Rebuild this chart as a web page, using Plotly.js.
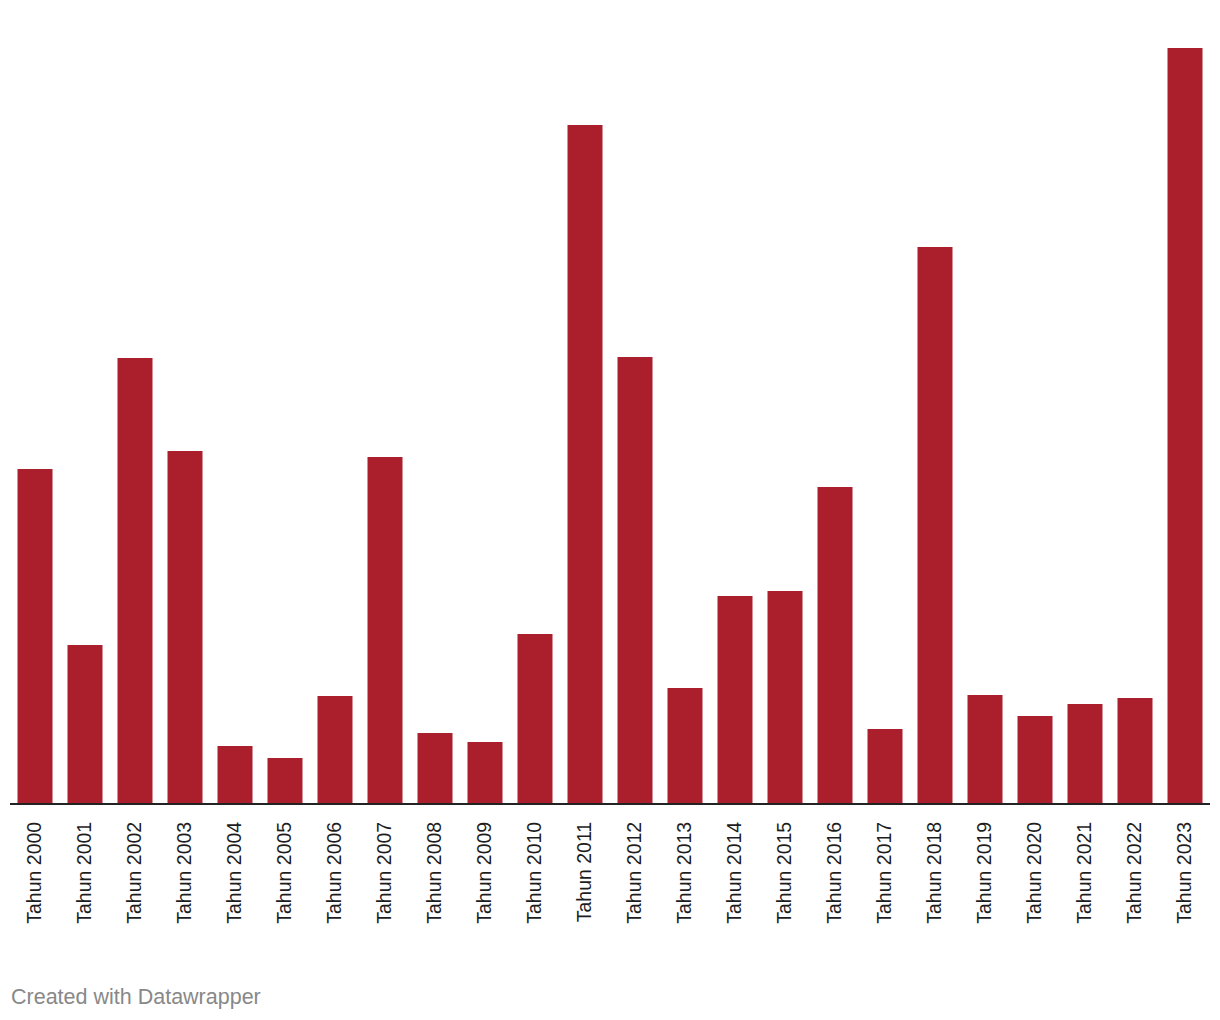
<!DOCTYPE html>
<html>
<head>
<meta charset="utf-8">
<script src="https://cdn.plot.ly/plotly-3.0.1.min.js"></script>
<style>html,body{margin:0;padding:0;background:#fff;}#chart{width:1220px;height:1020px;}</style>
</head>
<body>
<div id="chart"></div>
<script>
const years = ["Tahun 2000","Tahun 2001","Tahun 2002","Tahun 2003","Tahun 2004","Tahun 2005","Tahun 2006","Tahun 2007","Tahun 2008","Tahun 2009","Tahun 2010","Tahun 2011","Tahun 2012","Tahun 2013","Tahun 2014","Tahun 2015","Tahun 2016","Tahun 2017","Tahun 2018","Tahun 2019","Tahun 2020","Tahun 2021","Tahun 2022","Tahun 2023"];
const values = [334,158,445,352,57,45,107,346,70,61,169,678,446,115,207,212,316,74,556,108,87,99,105,755];

const trace = {
  type: 'bar',
  x: years,
  y: values,
  marker: {color: '#ab1f2c'},
  hoverinfo: 'x+y'
};

const layout = {
  width: 1220,
  height: 1020,
  margin: {l: 10, r: 10, t: 3, b: 217},
  paper_bgcolor: '#ffffff',
  plot_bgcolor: '#ffffff',
  bargap: 0.3,
  showlegend: false,
  font: {family: '"Liberation Sans", Arial, sans-serif', color: '#222'},
  xaxis: {
    type: 'category',
    tickangle: -90,
    tickfont: {family: '"Liberation Sans", Arial, sans-serif', size: 19.5, color: '#1d1d1d'},
    showline: true,
    linecolor: '#222',
    linewidth: 2,
    ticks: 'outside',
    ticklen: 9,
    tickcolor: 'rgba(0,0,0,0)',
    showgrid: false,
    zeroline: false
  },
  yaxis: {
    range: [0, 800],
    visible: false,
    showgrid: false,
    zeroline: false
  },
  annotations: [{
    text: 'Created with Datawrapper',
    xref: 'paper', yref: 'paper',
    x: 0, y: -0.2425,
    xanchor: 'left', yanchor: 'middle',
    xshift: -1,
    showarrow: false,
    font: {family: '"Liberation Sans", Arial, sans-serif', size: 21.5, color: '#888888'}
  }]
};

Plotly.newPlot('chart', [trace], layout, {displayModeBar: false, staticPlot: true});
</script>
</body>
</html>
